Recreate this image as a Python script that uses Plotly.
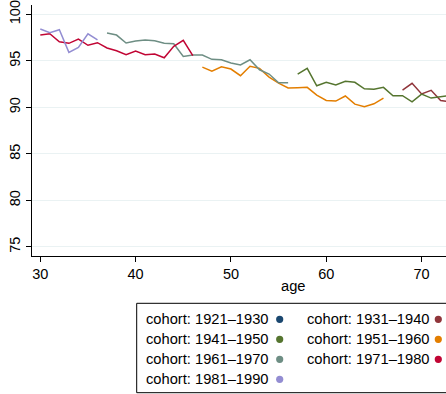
import plotly.graph_objects as go

# ---- data ----
cohorts = ["1921\u20131930", "1931\u20131940", "1941\u20131950", "1951\u20131960",
           "1961\u20131970", "1971\u20131980", "1981\u20131990"]
colors = ["#1a476f", "#90353b", "#55752f", "#e37e00", "#6e8e84", "#c10534", "#938dd2"]

ages_1921 = []
vals_1921 = []

ages_1931 = [68, 69, 70, 71, 72, 73]
vals_1931 = [91.86, 92.58, 91.45, 91.83, 90.73, 90.6]

ages_1941 = list(range(57, 74))
vals_1941 = [93.58, 94.19, 92.32, 92.69, 92.40, 92.80, 92.69, 92.00, 91.94, 92.15,
             91.25, 91.25, 90.60, 91.43, 91.00, 91.14, 91.3]

ages_1951 = list(range(47, 67))
vals_1951 = [94.33, 93.90, 94.37, 94.12, 93.40, 94.41, 94.19, 93.26, 92.61, 92.08,
             92.11, 92.15, 91.32, 90.75, 90.68, 91.22, 90.35, 90.06, 90.38, 91.00]

ages_1961 = list(range(37, 57))
vals_1961 = [97.99, 97.77, 96.91, 97.13, 97.24, 97.16, 96.88, 96.84, 95.48, 95.62,
             95.62, 95.16, 95.12, 94.76, 94.55, 95.12, 94.04, 93.58, 92.65, 92.65]

ages_1971 = list(range(30, 47))
vals_1971 = [97.77, 97.91, 97.05, 96.88, 97.34, 96.67, 96.95, 96.38, 96.09, 95.66,
             96.05, 95.66, 95.73, 95.33, 96.56, 97.20, 95.55]

ages_1981 = list(range(30, 37))
vals_1981 = [98.42, 98.02, 98.34, 95.91, 96.45, 97.91, 97.24]

series_ages = [ages_1921, ages_1931, ages_1941, ages_1951, ages_1961, ages_1971, ages_1981]
series_vals = [vals_1921, vals_1931, vals_1941, vals_1951, vals_1961, vals_1971, vals_1981]

y_ticks = [75, 80, 85, 90, 95, 100]
x_ticks = [30, 40, 50, 60, 70, 80]

# ---- geometry ----
W, H = 446, 394
L, R, T, B = 32, 0, 5, 138
pw, ph = W - L - R, H - T - B
FONT = "Liberation Sans, Arial, sans-serif"
FS_TICK = 14.5
FS_TEXT = 14.7


def px_x(px):
    return (px - L) / pw


def px_y(py):
    return (H - B - py) / ph


fig = go.Figure()
for name, col, xs, ys in zip(cohorts, colors, series_ages, series_vals):
    fig.add_trace(go.Scatter(x=xs, y=ys, mode="lines", name="cohort: " + name,
                             line=dict(color=col, width=1.5), showlegend=False))

# manual legend (box runs past the right edge, as in the reference)
shapes = [dict(type="rect", xref="paper", yref="paper",
               x0=px_x(136.7), x1=px_x(600), y0=px_y(303.3), y1=px_y(392.7),
               line=dict(color="#000000", width=1), fillcolor="white", layer="above")]
annotations = []
row_y = [319.3, 339.3, 359.3, 379.3]
col_text_x = [144, 304.7]
col_mark_x = [279.7, 438.3]
for i, (name, col) in enumerate(zip(cohorts, colors)):
    r, c = divmod(i, 2)
    yy = row_y[r]
    annotations.append(dict(text="cohort: " + name, xref="paper", yref="paper",
                            x=px_x(col_text_x[c]), y=px_y(yy), xanchor="left",
                            yanchor="middle", showarrow=False,
                            font=dict(family=FONT, size=FS_TEXT, color="#000000")))
    shapes.append(dict(type="circle", xref="paper", yref="paper",
                       x0=px_x(col_mark_x[c] - 3.6), x1=px_x(col_mark_x[c] + 3.6),
                       y0=px_y(yy + 3.6), y1=px_y(yy - 3.6),
                       fillcolor=col, line=dict(color=col, width=0), layer="above"))

annotations.append(dict(text="age", xref="paper", yref="paper", x=px_x(293), y=px_y(286),
                        xanchor="center", yanchor="middle", showarrow=False,
                        font=dict(family=FONT, size=FS_TEXT, color="#000000")))

fig.update_layout(
    width=W, height=H,
    margin=dict(l=L, r=R, t=T, b=B, pad=0),
    paper_bgcolor="white", plot_bgcolor="white",
    font=dict(family=FONT, size=FS_TICK, color="#000000"),
    showlegend=False,
    shapes=shapes, annotations=annotations,
    xaxis=dict(range=[29.13, 72.56], tickvals=x_ticks, ticks="outside", ticklen=5,
               tickwidth=1, tickcolor="#000000", showline=True, linecolor="#000000",
               linewidth=1, showgrid=False, zeroline=False,
               tickfont=dict(family=FONT, size=FS_TICK)),
    yaxis=dict(range=[74.03, 101.0], tickvals=y_ticks, ticks="outside", ticklen=5,
               tickwidth=1, tickcolor="#000000", showline=True, linecolor="#000000",
               linewidth=1, showgrid=True, gridcolor="#eaf2f3", gridwidth=1,
               zeroline=False, tickangle=-90, ticklabeloverflow="allow",
               tickfont=dict(family=FONT, size=FS_TICK)),
)

fig.write_html("out.html")
